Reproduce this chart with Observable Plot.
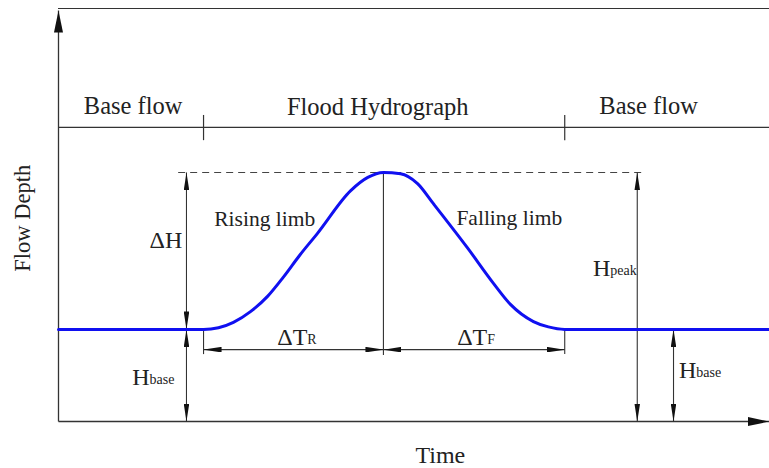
<!DOCTYPE html>
<html>
<head>
<meta charset="utf-8">
<script src="https://cdn.jsdelivr.net/npm/d3@7"></script>
<script src="https://cdn.jsdelivr.net/npm/@observablehq/plot@0.6"></script>
<style>
  body { margin: 0; background: #fff; }
</style>
</head>
<body>
<div id="chart"></div>
<script>
// ---- Hydrograph curve (time, depth in arbitrary units: 0–100) ----
const time  = [0, 20.4, 22.5, 24.6, 27.0, 29.4, 31.6, 33.9, 36.4, 41.1, 43.5, 45.7, 48.1, 50.5, 52.7, 57.5, 61.2, 63.6, 66.8, 68.9, 71.2, 100];
const depth = [22.3, 22.3, 22.7, 24.0, 26.6, 30.3, 34.9, 40.2, 45.5, 55.9, 59.1, 60.3, 60.0, 57.6, 52.8, 42.1, 33.4, 28.3, 24.2, 22.9, 22.3, 22.3];

// ---- Key levels / instants ----
const hBase = 22.3, hPeak = 60.3;
const tRiseStart = 20.4, tPeak = 45.7, tFallEnd = 71.2;
const phaseLevel = 71.2;           // level of the phase divider line
const frameTop = 100;

// ---- Dimension lines ----
const dimX  = [18.0, 18.0, 81.4, 86.5];          // vertical dimension lines
const dimY1 = [hBase, 0, 0, 0];
const dimY2 = [hPeak, hBase, hPeak, hBase];
const dtLevel = 17.4;                              // ΔT dimension level

// ---- Labels ----
const phaseLabels = ["Base flow", "Flood Hydrograph", "Base flow"];
const phaseX = [10.5, 44.9, 83.0];
const phaseY = [76.4, 76.2, 76.4];

const limbLabels = ["Rising limb", "Falling limb"];
const limbX = [29.0, 63.4];
const limbY = [49.1, 49.3];

const symMain = ["ΔH", "ΔT", "ΔT", "H", "H", "H"];
const symSub  = ["", "R", "F", "peak", "base", "base"];
const symX    = [17.4, 35.0, 60.3, 77.6, 12.8, 89.7];
const symY    = [43.8, 20.3, 20.3, 37.0, 10.6, 12.5];

const xTitle = "Time", yTitle = "Flow Depth";

// ---- Build tables ----
const curve = time.map((t, i) => ({t, d: depth[i]}));
const dims = dimX.map((x, i) => ({x1: x, x2: x, y1: dimY1[i], y2: dimY2[i]}));
dims.push({x1: tRiseStart, x2: tPeak, y1: dtLevel, y2: dtLevel});
dims.push({x1: tPeak, x2: tFallEnd, y1: dtLevel, y2: dtLevel});
const phases = phaseLabels.map((text, i) => ({text, x: phaseX[i], y: phaseY[i]}));
const limbs = limbLabels.map((text, i) => ({text, x: limbX[i], y: limbY[i]}));
const syms = symMain.map((text, i) => ({text, sub: symSub[i], x: symX[i], y: symY[i]}));

// ---- Filled arrowhead marker ----
function head(len, half, fill = "#111") {
  return (color, context) => {
    const doc = (context && context.document) || document;
    const ns = "http://www.w3.org/2000/svg";
    const m = doc.createElementNS(ns, "marker");
    m.setAttribute("viewBox", `0 ${-half} ${len} ${2 * half}`);
    m.setAttribute("markerUnits", "userSpaceOnUse");
    m.setAttribute("markerWidth", len);
    m.setAttribute("markerHeight", 2 * half);
    m.setAttribute("refX", len);
    m.setAttribute("refY", 0);
    m.setAttribute("orient", "auto-start-reverse");
    const p = doc.createElementNS(ns, "path");
    p.setAttribute("d", `M0,${-half}L${len},0L0,${half}Z`);
    p.setAttribute("fill", fill);
    p.setAttribute("stroke", "none");
    m.appendChild(p);
    return m;
  };
}
const dimHead = head(18, 2.8);
const axisHead = head(22, 4.5);

const ink = "#333";
const serif = "'Liberation Serif', 'Times New Roman', serif";

const chart = Plot.plot({
  width: 769,
  height: 468,
  marginLeft: 58,
  marginRight: 0,
  marginTop: 8,
  marginBottom: 47,
  x: {domain: [0, 100], axis: null},
  y: {domain: [0, 100], axis: null},
  style: {fontFamily: serif, background: "white", overflow: "visible"},
  marks: [
    // frame top & phase divider
    Plot.ruleY([frameTop], {stroke: ink, strokeWidth: 1.2}),
    Plot.ruleY([phaseLevel], {stroke: ink, strokeWidth: 1.2}),
    Plot.ruleX([tRiseStart, tFallEnd], {y1: 68.0, y2: 74.1, stroke: ink, strokeWidth: 1.2}),
    // axes with arrows
    Plot.link([{x1: 0, y1: 0, x2: 0, y2: 99.5}], {x1: "x1", y1: "y1", x2: "x2", y2: "y2", stroke: ink, strokeWidth: 1.3, markerEnd: axisHead}),
    Plot.link([{x1: 0, y1: 0, x2: 100, y2: 0}], {x1: "x1", y1: "y1", x2: "x2", y2: "y2", stroke: ink, strokeWidth: 1.3, markerEnd: axisHead}),
    // peak dashed level
    Plot.ruleY([hPeak], {x1: 16.9, x2: 82.3, stroke: "#444", strokeWidth: 1.1, strokeDasharray: "7,5"}),
    // extension lines
    Plot.ruleX([tRiseStart, tFallEnd], {y1: 16.2, y2: hBase, stroke: ink, strokeWidth: 1.1}),
    Plot.ruleX([tPeak], {y1: 16.0, y2: hPeak, stroke: ink, strokeWidth: 1.1}),
    // dimension arrows
    Plot.link(dims, {x1: "x1", y1: "y1", x2: "x2", y2: "y2", stroke: ink, strokeWidth: 1.1, markerStart: dimHead, markerEnd: dimHead}),
    // hydrograph
    Plot.line(curve, {x: "t", y: "d", stroke: "#1010f0", strokeWidth: 3, curve: "monotone-x"}),
    // labels
    Plot.text(phases, {x: "x", y: "y", text: "text", fontSize: 24.5, fill: "#222"}),
    Plot.text(limbs, {x: "x", y: "y", text: "text", fontSize: 21.5, fill: "#222"}),
    Plot.text(syms, {x: "x", y: "y", text: "text", fontSize: 24, fill: "#222", textAnchor: "end"}),
    Plot.text(syms, {x: "x", y: "y", text: "sub", fontSize: 14, fill: "#222", textAnchor: "start", dy: 2.2}),
    Plot.text([xTitle], {x: 53.7, y: -8.1, text: d => d, fontSize: 24, fill: "#222"}),
    Plot.text([yTitle], {x: -5.06, y: 49.2, text: d => d, fontSize: 22.5, fill: "#222", rotate: -90})
  ]
});
document.getElementById("chart").appendChild(chart);
</script>
</body>
</html>
